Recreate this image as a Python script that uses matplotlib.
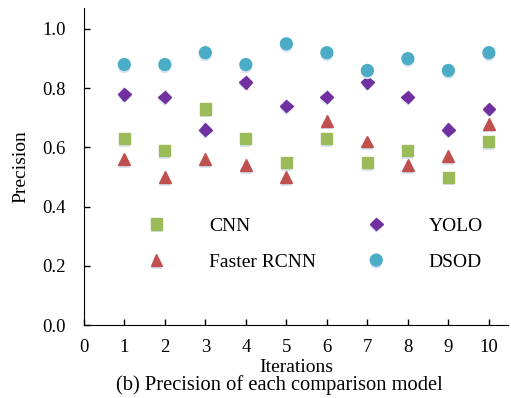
import matplotlib
matplotlib.use('Agg')
import matplotlib.pyplot as plt
import matplotlib.patheffects as pe

plt.rcParams['font.family'] = ['Liberation Serif', 'DejaVu Serif']
plt.rcParams['font.size'] = 13.5

iterations = [1, 2, 3, 4, 5, 6, 7, 8, 9, 10]
cnn = [0.63, 0.59, 0.73, 0.63, 0.55, 0.63, 0.55, 0.59, 0.50, 0.62]
faster_rcnn = [0.56, 0.50, 0.56, 0.54, 0.50, 0.69, 0.62, 0.54, 0.57, 0.68]
yolo = [0.78, 0.77, 0.66, 0.82, 0.74, 0.77, 0.82, 0.77, 0.66, 0.73]
dsod = [0.88, 0.88, 0.92, 0.88, 0.95, 0.92, 0.86, 0.90, 0.86, 0.92]

series = [
    ('CNN', cnn, 's', '#9BBB59', 8),
    ('Faster RCNN', faster_rcnn, '^', '#C0504D', 8.5),
    ('YOLO', yolo, 'D', '#7030A0', 6.5),
    ('DSOD', dsod, 'o', '#4BACC6', 8.5),
]

fig = plt.figure(figsize=(5.11, 3.98), dpi=100)
ax = fig.add_axes([0.164, 0.183, 0.83, 0.797])

shadow = [pe.SimplePatchShadow(offset=(0, -2), shadow_rgbFace='#D6E4F3', alpha=1.0), pe.Normal()]

for name, vals, mk, col, ms in series:
    ax.plot(iterations, vals, linestyle='none', marker=mk, color=col,
            markersize=ms, label=name, path_effects=shadow)

ax.set_xlim(0, 10.47)
ax.set_ylim(0, 1.071)
ax.set_xticks(range(0, 11))
ax.set_yticks([0.0, 0.2, 0.4, 0.6, 0.8, 1.0])
ax.set_yticklabels(['0.0', '0.2', '0.4', '0.6', '0.8', '1.0'])
ax.tick_params(direction='in', length=4, width=1)
ax.tick_params(axis='x', pad=10)
ax.tick_params(axis='y', pad=13)
ax.spines['top'].set_visible(False)
ax.spines['right'].set_visible(False)

ax.set_ylabel('Precision', labelpad=9, fontsize=14)
ax.set_xlabel('Iterations', labelpad=2, fontsize=14)
fig.text(0.546, 0.033, '(b) Precision of each comparison model', ha='center', va='center', fontsize=14.8)

ax.legend(loc='upper left', bbox_to_anchor=(0.13, 0.365), ncol=2, frameon=False,
          handlelength=1.0, handletextpad=2.2, columnspacing=2.6,
          labelspacing=0.95, fontsize=14, borderaxespad=0)

fig.savefig('out.png', dpi=100)
